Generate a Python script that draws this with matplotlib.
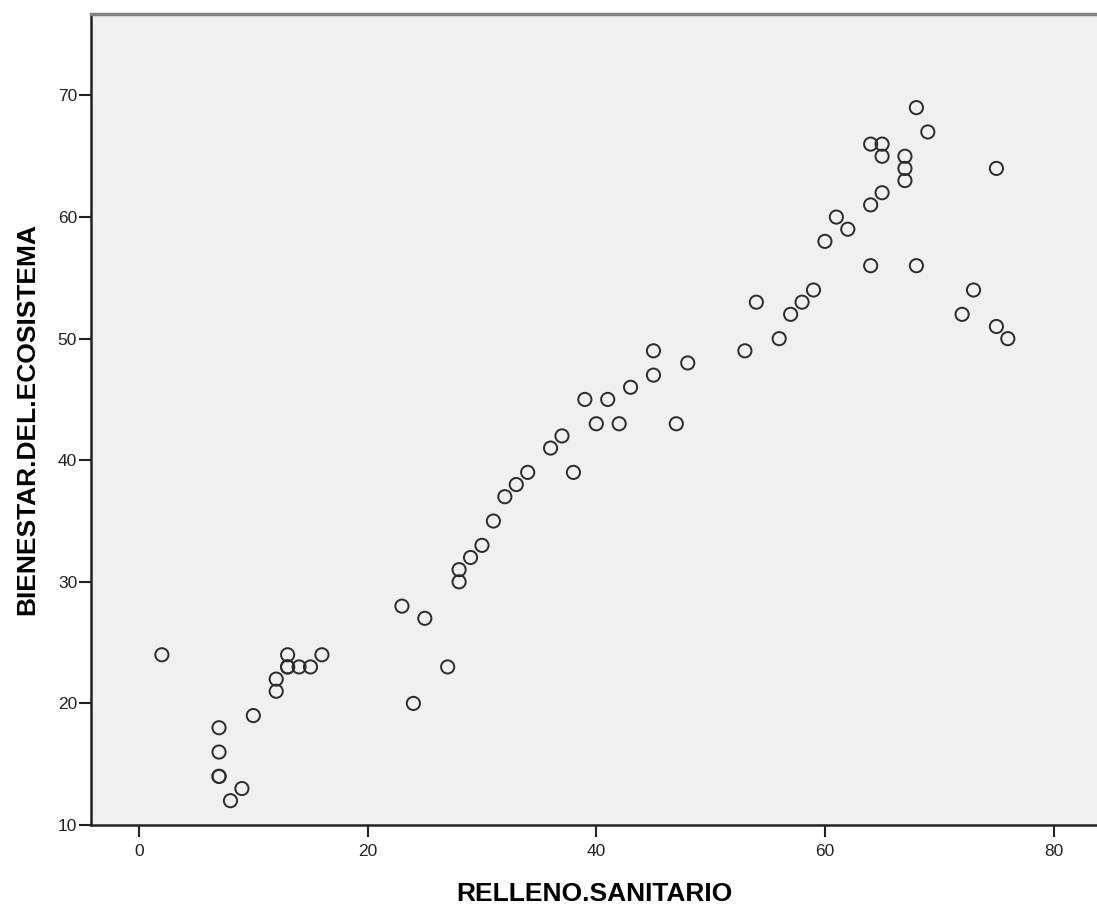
import numpy as np
from matplotlib import pyplot as plt

plt.rcParams['font.family'] = ['Liberation Sans', 'DejaVu Sans']

relleno = [2, 7, 7, 7, 7, 8, 9, 10, 12, 12, 13, 13, 13, 14, 15, 16,
           23, 24, 25, 27, 28, 28, 29, 30, 31, 32, 33, 34, 36, 37, 38,
           39, 40, 41, 42, 43, 45, 45, 47, 48, 53, 54, 56, 57, 58, 59,
           60, 61, 62, 64, 64, 64, 65, 65, 65, 67, 67, 67, 68, 68, 69,
           72, 73, 75, 75, 76]
bienestar = [24, 18, 16, 14, 14, 12, 13, 19, 22, 21, 24, 23, 23, 23, 23, 24,
             28, 20, 27, 23, 31, 30, 32, 33, 35, 37, 38, 39, 41, 42, 39,
             45, 43, 45, 43, 46, 49, 47, 43, 48, 49, 53, 50, 52, 53, 54,
             58, 60, 59, 56, 61, 66, 66, 65, 62, 65, 64, 63, 69, 56, 67,
             52, 54, 64, 51, 50]

fig = plt.figure(figsize=(10.97, 9.05), dpi=100)
ax = fig.add_axes([91/1097, 1-825/905, 1006/1097, 811/905])
ax.set_facecolor('#f0f0f0')

ax.scatter(relleno, bienestar, s=90, facecolors='none', edgecolors='#2b2b2b', linewidths=1.4)

ax.set_xlim(-4.2, 83.8)
ax.set_ylim(10, 76.7)
ax.set_xticks([0, 20, 40, 60, 80])
ax.set_yticks([10, 20, 30, 40, 50, 60, 70])

for s in ['left', 'bottom']:
    ax.spines[s].set_color('#222222')
    ax.spines[s].set_linewidth(1.8)
ax.spines['top'].set_color('#808080')
ax.spines['top'].set_linewidth(2.5)
ax.spines['right'].set_visible(False)
ax.tick_params(direction='out', length=8.5, width=1.5, color='#222222', labelsize=12.5, labelcolor='#222222')
ax.tick_params(axis='x', pad=5)
ax.tick_params(axis='y', pad=1.5)

ax.set_xlabel('RELLENO.SANITARIO', fontsize=19, fontweight='bold', labelpad=17)
ax.set_ylabel('BIENESTAR.DEL.ECOSISTEMA', fontsize=19, fontweight='bold', labelpad=13)

plt.savefig('out.png', dpi=100)
